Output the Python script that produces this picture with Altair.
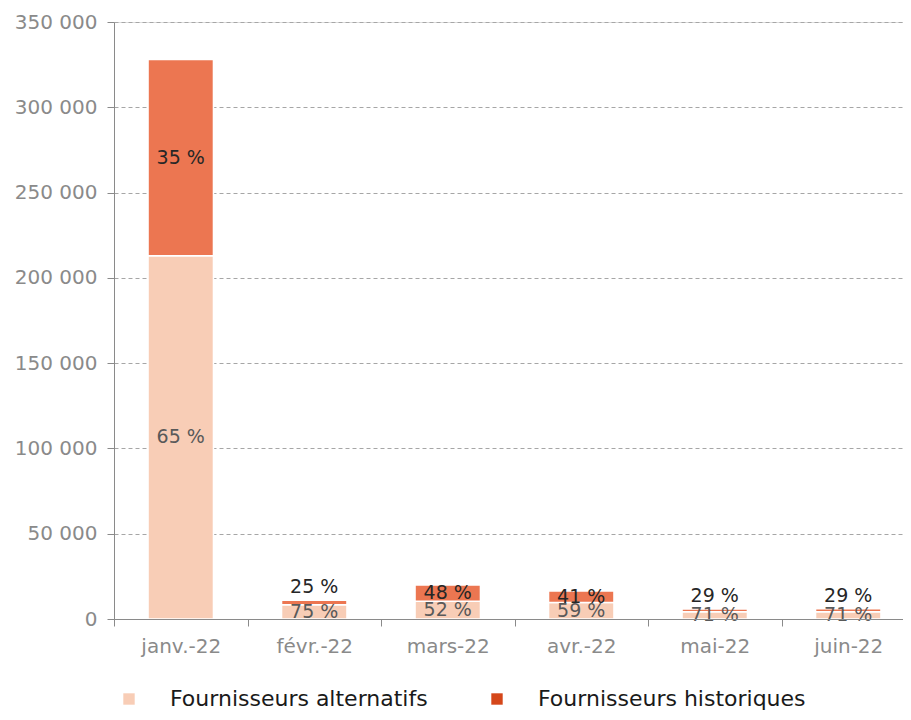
import altair as alt
import pandas as pd

months = ["janv.-22", "févr.-22", "mars-22", "avr.-22", "mai-22", "juin-22"]
alternatifs = [213000, 8300, 10400, 9700, 4200, 4300]
historiques = [115000, 2750, 9600, 6700, 1700, 1750]
pct_alt = [65, 75, 52, 59, 71, 71]
pct_hist = [35, 25, 48, 41, 29, 29]
series = ["Fournisseurs alternatifs", "Fournisseurs historiques"]
bar_colors = ["#F8CDB6", "#EC7651"]
legend_colors = ["#F8CDB6", "#D5471A"]
y_ticks = [0, 50000, 100000, 150000, 200000, 250000, 300000, 350000]

rows = []
for i, m in enumerate(months):
    rows.append(dict(month=m, series=series[0], value=alternatifs[i], pct=pct_alt[i], rank=0))
    rows.append(dict(month=m, series=series[1], value=historiques[i], pct=pct_hist[i], rank=1))
df = pd.DataFrame(rows)
df["label"] = df["pct"].astype(str) + " %"

FONT = "DejaVu Sans"
AXC = "#8a8a8a"

x_enc = alt.X(
    "month:N",
    sort=months,
    scale=alt.Scale(paddingInner=0, paddingOuter=0, range=[0, 801]),
    axis=alt.Axis(
        title=None, labelAngle=0, tickBand="extent", tickSize=7, labelPadding=10,
        domainColor=AXC, tickColor=AXC, labelColor=AXC, labelFont=FONT,
        labelFontSize=20, grid=False, zindex=1,
    ),
)

y_axis = alt.Axis(
    title=None, values=y_ticks,
    labelExpr="replace(format(datum.value, ','), ',', ' ')",
    gridDash=[4, 3], gridColor="#a6a6a6", gridWidth=1,
    tickSize=7, tickColor=AXC, labelPadding=10, domainColor=AXC,
    labelColor=AXC, labelFont=FONT, labelFontSize=20,
)
y_scale = alt.Scale(domain=[0, 350000], nice=False)

base = alt.Chart(df)

legend_layer = base.mark_square(size=130).encode(
    x=x_enc,
    y=alt.Y("value:Q", scale=y_scale, axis=y_axis),
    opacity=alt.value(0),
    fill=alt.Fill(
        "series:N",
        scale=alt.Scale(domain=series, range=legend_colors),
        legend=alt.Legend(
            title=None, orient="none", legendX=4, legendY=666, direction="horizontal",
            symbolType="square", symbolSize=130, symbolStrokeWidth=0, symbolOpacity=1,
            labelFont=FONT, labelFontSize=22, labelColor="#1a1a1a", labelLimit=500,
            labelOffset=30, columnPadding=58, padding=0,
        ),
    ),
)

bars = base.mark_bar(width=alt.RelativeBandSize(0.49), stroke="white", strokeWidth=1.5).encode(
    x=x_enc,
    y=alt.Y("value:Q", stack="zero", scale=y_scale, axis=y_axis),
    color=alt.Color("series:N", scale=alt.Scale(domain=series, range=bar_colors), legend=None),
    order=alt.Order("rank:Q", sort="ascending"),
)

labels_base = base.transform_joinaggregate(total="sum(value)", groupby=["month"])

low_lab = labels_base.transform_filter("datum.rank == 0").transform_calculate(
    ypos="datum.value / 2"
).mark_text(font=FONT, fontSize=19, color="#595959", baseline="middle").encode(
    x=x_enc, y=alt.Y("ypos:Q", scale=y_scale, axis=y_axis), text="label:N"
)

up_big = labels_base.transform_filter("datum.rank == 1 && datum.value >= 5000").transform_calculate(
    ypos="datum.total - datum.value / 2"
).mark_text(font=FONT, fontSize=19, color="#262626", baseline="middle").encode(
    x=x_enc, y=alt.Y("ypos:Q", scale=y_scale, axis=y_axis), text="label:N"
)

up_small = labels_base.transform_filter("datum.rank == 1 && datum.value < 5000").transform_calculate(
    ypos="datum.total"
).mark_text(font=FONT, fontSize=19, color="#262626", baseline="middle", dy=-13).encode(
    x=x_enc, y=alt.Y("ypos:Q", scale=y_scale, axis=y_axis), text="label:N"
)

chart = alt.layer(legend_layer, bars, low_lab, up_big, up_small).properties(
    width=789, height=597,
    padding={"left": 106, "top": 14, "right": 0, "bottom": 93},
    autosize=alt.AutoSizeParams(type="none"),
).configure_view(stroke=None).configure(background="white")

chart.save("out.html", embed_options={"renderer": "svg", "actions": False})
